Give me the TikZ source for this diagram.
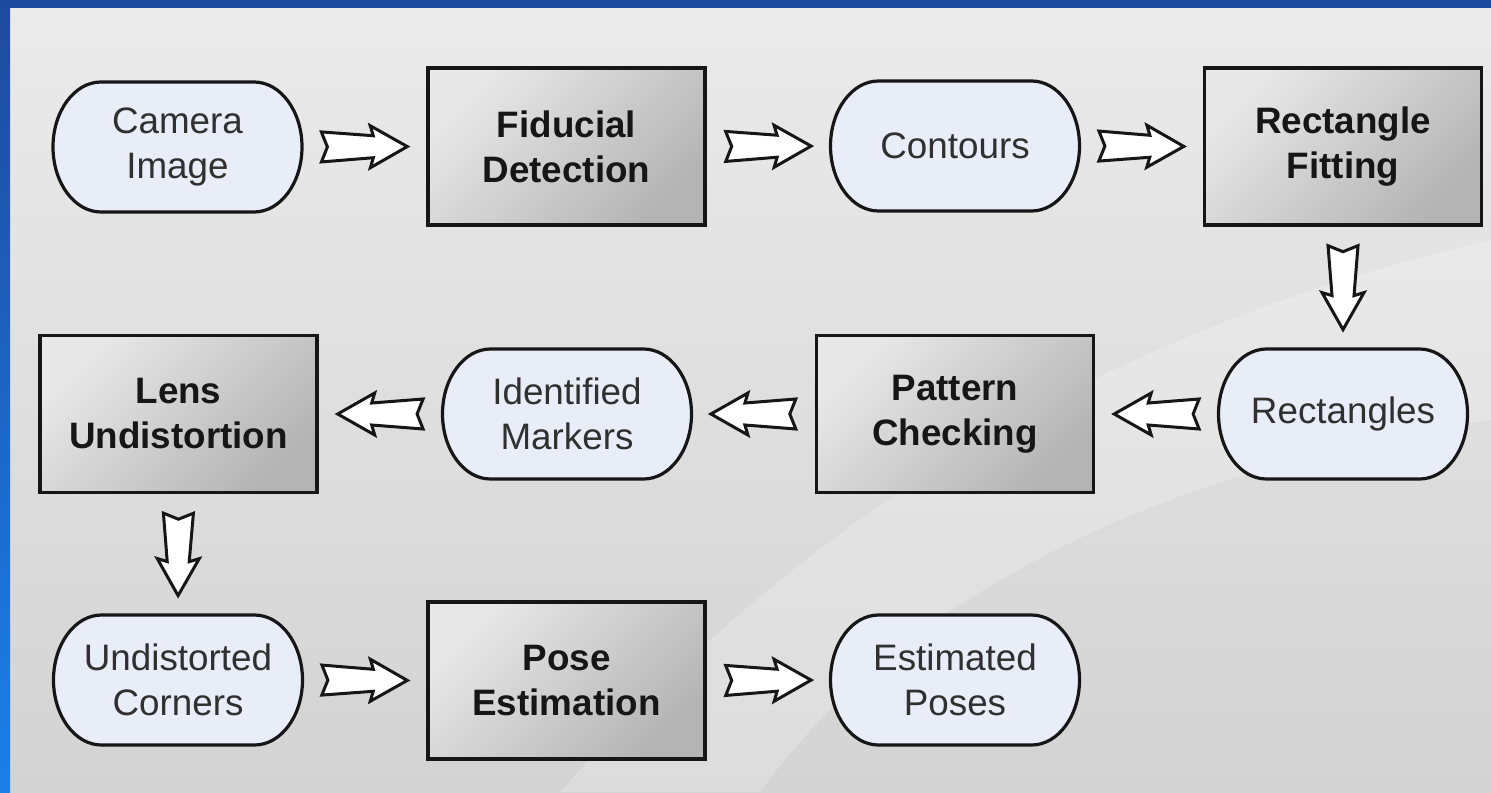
\documentclass[tikz,border=0pt]{standalone}
\usepackage{fontspec}
\setmainfont{Liberation Sans}
\usetikzlibrary{calc}
\definecolor{stadfill}{HTML}{E8EDF8}
\definecolor{boxlight}{HTML}{E8E8E8}
\definecolor{boxdark}{HTML}{B4B4B4}
\definecolor{ink}{HTML}{161616}
\definecolor{softink}{HTML}{303030}
\definecolor{bgtop}{HTML}{EBEBEB}
\definecolor{bgbot}{HTML}{D3D3D3}
\definecolor{frametop}{HTML}{1E4A9E}
\definecolor{framebot}{HTML}{1A80EA}
\tikzset{
  stadshape/.style={draw=ink, line width=1.6pt, fill=stadfill},
  stadtext/.style={shape=rectangle, inner sep=0pt, minimum width=124.5pt, minimum height=65pt,
    align=center, text=softink, font=\fontsize{18.4}{22.5}\selectfont},
  procbox/.style={shape=rectangle, draw=ink, line width=1.7pt, top color=boxlight, bottom color=boxdark,
    shading angle=45, minimum width=138.5pt, minimum height=78.5pt, inner sep=0pt,
    align=center, text=ink, font=\fontsize{18.4}{22.5}\selectfont\bfseries},
  blockarrow/.style={draw=ink, line width=1.5pt, fill=white, line join=miter},
}
% stadium-shaped data node: name, x, y, text
\newcommand\stad[4]{%
  \draw[stadshape] (#2,#3) ++(-76.5,-65) -- ++(153,0)
    arc[start angle=90, end angle=-90, x radius=24pt, y radius=32.5pt]
    -- ++(-153,0)
    arc[start angle=270, end angle=90, x radius=24pt, y radius=32.5pt] -- cycle;
  \node[stadtext] (#1) at (#2,#3) {#4};
}
% block arrow from anchor #1 to anchor #2
\newcommand\barrow[2]{%
  \coordinate (ba) at ($(#1)!9.5pt!(#2)$);
  \coordinate (bb) at ($(#2)!9.5pt!(#1)$);
  \draw[blockarrow]
    ($(ba)!7.5pt!90:(bb)$)
    -- ($(bb)!17pt!(ba)!5.5pt!-90:(ba)$)
    -- ($(bb)!18.5pt!(ba)!10.5pt!-90:(ba)$)
    -- (bb)
    -- ($(bb)!18.5pt!(ba)!10.5pt!90:(ba)$)
    -- ($(bb)!17pt!(ba)!5.5pt!90:(ba)$)
    -- ($(ba)!7.5pt!-90:(bb)$)
    -- ($(ba)!3pt!(bb)$)
    -- cycle;
}
\begin{document}
\begin{tikzpicture}[x=0.5pt, y=-0.5pt]
\useasboundingbox (0,0) rectangle (1491,792);
% background
\shade[top color=bgtop, bottom color=bgbot] (0,0) rectangle (1491,792);
\fill[white, opacity=0.22] (560,792) .. controls (800,520) and (1100,330) .. (1491,240)
  -- (1491,420) .. controls (1150,470) and (900,600) .. (760,792) -- cycle;
% frame
\fill[frametop] (0,0) rectangle (1491,8);
\shade[top color=frametop, bottom color=framebot] (0,0) rectangle (10,792);

% row 1
\stad{cam}{177.5}{147}{Camera\\Image}
\node[procbox] (fid) at (566.5,146.5) {Fiducial\\Detection};
\stad{cont}{955}{146}{Contours}
\node[procbox] (rfit) at (1343,146.5) {Rectangle\\Fitting};
% row 2
\stad{rects}{1343}{414}{Rectangles}
\node[procbox] (pat) at (955,414) {Pattern\\Checking};
\stad{ident}{567}{414}{Identified\\Markers}
\node[procbox] (lens) at (178.5,414) {Lens\\Undistortion};
% row 3
\stad{undist}{178}{680}{Undistorted\\Corners}
\node[procbox] (pose) at (566.5,680.5) {Pose\\Estimation};
\stad{est}{955}{680}{Estimated\\Poses}

% arrows
\barrow{cam.east}{fid.west}
\barrow{fid.east}{cont.west}
\barrow{cont.east}{rfit.west}
\barrow{rfit.south}{rects.north}
\barrow{rects.west}{pat.east}
\barrow{pat.west}{ident.east}
\barrow{ident.west}{lens.east}
\barrow{lens.south}{undist.north}
\barrow{undist.east}{pose.west}
\barrow{pose.east}{est.west}
\end{tikzpicture}
\end{document}
